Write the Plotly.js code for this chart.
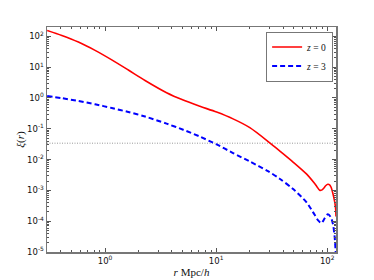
<!DOCTYPE html>
<html><head><meta charset="utf-8">
<script src="https://cdn.plot.ly/plotly-3.0.1.min.js"></script>
<style>html,body{margin:0;padding:0;background:#fff;}#plot{width:374px;height:280px;}</style>
</head><body><div id="plot"></div>
<script>
// z = 0 correlation function
const rZ0 = [0.301,0.408,0.575,0.813,1.149,1.62,2.29,3.58,5.05,7.14,10.1,14.2,20.1,30.4,37.3,49.0,65.0,77.1,80.3,85.5,89.1,92.9,96.8,101.4,105.1,108.4,112.5,116.6,119.0,120];
const xiZ0 = [155.6,107,65.2,35.0,17.2,8.05,3.69,1.48,0.855,0.537,0.348,0.209,0.1086,0.0350,0.0192,0.00848,0.00342,0.00166,0.00136,0.00101,0.00102,0.00117,0.00141,0.00158,0.00152,0.00126,0.00079,0.00044,0.00026,0.000143];
// z = 3 correlation function
const rZ3 = [0.301,0.408,0.575,0.813,1.149,1.62,2.29,3.58,5.05,7.14,10.1,14.2,20.1,29.3,37.3,49.0,65.0,77.1,82.8,88.5,94.8,101.4,107.3,112.5,116.6,119,120];
const xiZ3 = [1.16,0.985,0.798,0.623,0.472,0.350,0.249,0.1465,0.0927,0.0557,0.0310,0.0163,0.00867,0.00422,0.00239,0.00113,0.000413,0.000161,0.000106,0.0000868,0.000123,0.000167,0.000138,0.000083,0.000032,0.0000112,0.000008];
// reference level (dotted line)
const refX = [0.3,120];
const refY = [0.034,0.034];
const xLimits = [0.3,120];
const yLimits = [1e-5,200];
const xTickVals = [1,10,100];
const xTickText = ['10<sup>0</sup>','10<sup>1</sup>','10<sup>2</sup>'];
const yTickVals = [1e-5,1e-4,1e-3,1e-2,1e-1,1,10,100];
const yTickText = ['10<sup>-5</sup>','10<sup>-4</sup>','10<sup>-3</sup>','10<sup>-2</sup>','10<sup>-1</sup>','10<sup>0</sup>','10<sup>1</sup>','10<sup>2</sup>'];
const names = ['<i>z</i> = 0','<i>z</i> = 3'];

const traces = [
  {x: refX, y: refY, mode:'lines', line:{color:'#999', width:1, dash:'1px,1.5px'}, showlegend:false, hoverinfo:'skip'},
  {x: rZ0, y: xiZ0, mode:'lines', name: names[0], line:{color:'#ff0000', width:1.6, shape:'spline', smoothing:0.8}},
  {x: rZ3, y: xiZ3, mode:'lines', name: names[1], line:{color:'#0000ff', width:2, dash:'5px,3px', shape:'spline', smoothing:0.8}}
];
const axCommon = {
  type:'log', showline:true, mirror:'ticks', linecolor:'#777', linewidth:1.5,
  ticks:'inside', ticklen:4, tickcolor:'#555', tickwidth:1, showgrid:false, zeroline:false,
  tickfont:{family:'DejaVu Sans', size:8.5, color:'#111'},
  minor:{ticks:'inside', ticklen:2, tickcolor:'#555', dtick:'D1', showgrid:false}
};
const layout = {
  width:374, height:280,
  margin:{l:47, r:38, t:27, b:28},
  paper_bgcolor:'#fff', plot_bgcolor:'#fff',
  xaxis: Object.assign({}, axCommon, {
    range:[Math.log10(xLimits[0]), Math.log10(xLimits[1])],
    tickvals:xTickVals, ticktext:xTickText,
    title:{text:'<i>r</i> Mpc/<i>h</i>', font:{family:'Liberation Serif', size:11, color:'#111'}, standoff:2}
  }),
  yaxis: Object.assign({}, axCommon, {
    range:[Math.log10(yLimits[0]), 2.303],
    tickvals:yTickVals, ticktext:yTickText,
    title:{text:'<i>ξ</i>(<i>r</i>)', font:{family:'Liberation Serif', size:11, color:'#111'}, standoff:0}
  }),
  legend:{x:0.99, xanchor:'right', y:0.98, yanchor:'top', bgcolor:'#fff', bordercolor:'#777', borderwidth:1,
    font:{family:'Liberation Serif', size:9.5, color:'#111'}, tracegroupgap:0},
  showlegend:true
};
Plotly.newPlot('plot', traces, layout, {staticPlot:true, displayModeBar:false});
</script>
</body></html>
